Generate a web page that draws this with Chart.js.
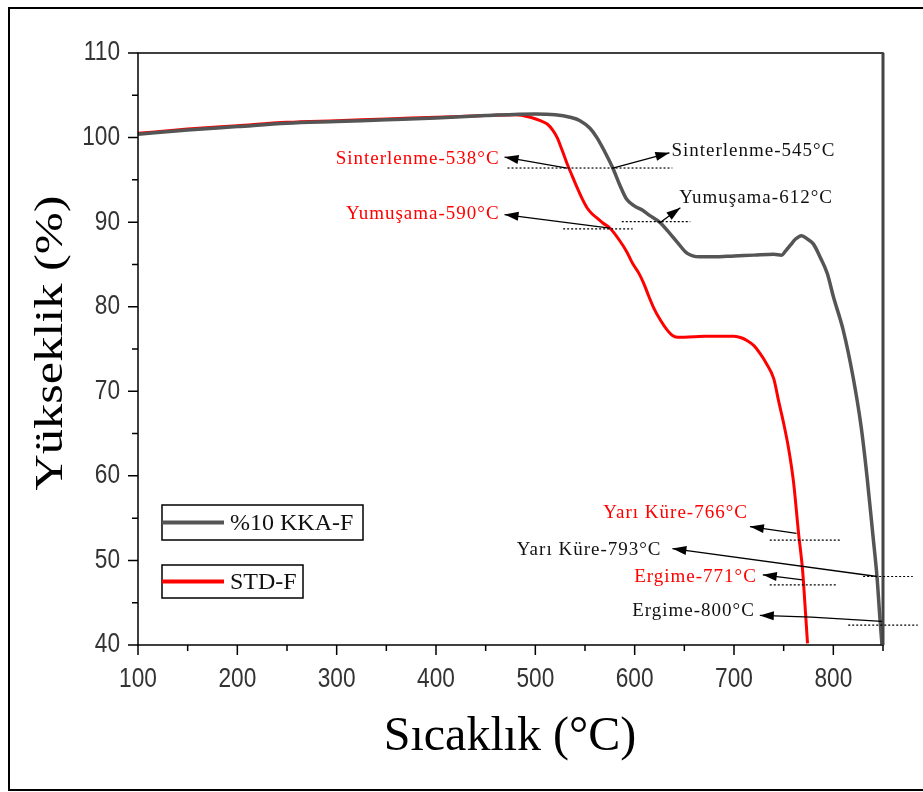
<!DOCTYPE html>
<html lang="tr">
<head>
    <meta charset="UTF-8">
    <title>Yükseklik - Sıcaklık</title>
    <script src="https://cdn.jsdelivr.net/npm/chart.js"></script>
    <style>
        html, body { margin: 0; padding: 0; background: #fff; }
        #wrap { width: 923px; height: 792px; position: relative; }
    </style>
</head>
<body>
    <div id="wrap"><canvas id="heightChart" width="923" height="792"></canvas></div>

    <script>
        // %10 KKA-F (gray)
        const kkaTemps = [100, 150, 200, 250, 300, 350, 400, 450, 500, 520, 535, 545, 555, 562, 570, 578, 585, 592, 600, 608, 615, 625, 633, 643, 653, 665, 680, 700, 720, 740, 748, 752, 757, 762, 768, 774, 780, 787, 794, 800, 810, 820, 828, 834, 840, 844, 847, 849];
        const kkaValues = [100.4, 100.9, 101.3, 101.7, 101.9, 102.1, 102.3, 102.6, 102.8, 102.7, 102.4, 102.0, 101.1, 100.0, 98.3, 96.4, 94.4, 92.7, 91.9, 91.4, 90.8, 90.0, 89.0, 87.6, 86.3, 85.9, 85.9, 86.0, 86.1, 86.2, 86.1, 86.6, 87.3, 88.0, 88.4, 88.0, 87.4, 85.8, 83.9, 81.2, 77.2, 71.6, 65.8, 59.8, 52.8, 48.0, 43.0, 40.0];

        // STD-F (red)
        const stdTemps = [100, 150, 200, 250, 300, 350, 400, 450, 480, 495, 505, 512, 518, 522, 527, 532, 537, 542, 547, 552, 557, 562, 568, 575, 585, 592, 598, 604, 609, 614, 619, 626, 633, 638, 643, 650, 670, 690, 700, 708, 713, 720, 726, 733, 740, 745, 750, 755, 760, 765, 769, 772, 774];
        const stdValues = [100.5, 101.0, 101.4, 101.8, 102.0, 102.2, 102.4, 102.6, 102.7, 102.4, 102.0, 101.6, 100.8, 100.0, 98.5, 96.9, 95.5, 94.1, 92.8, 91.7, 91.0, 90.5, 89.9, 89.3, 87.8, 86.5, 85.1, 84.0, 82.8, 81.3, 79.9, 78.4, 77.2, 76.6, 76.4, 76.4, 76.5, 76.5, 76.5, 76.3, 76.0, 75.4, 74.5, 73.2, 71.5, 68.8, 66.2, 63.2, 59.2, 53.2, 48.9, 43.8, 40.2];

        const xTicks = [100, 200, 300, 400, 500, 600, 700, 800];
        const xMinorTicks = [150, 250, 350, 450, 550, 650, 750, 850];
        const yTicks = [40, 50, 60, 70, 80, 90, 100, 110];
        const yMinorTicks = [45, 55, 65, 75, 85, 95, 105];

        const seriesNames = ['%10 KKA-F', 'STD-F'];
        const xTitle = 'Sıcaklık (°C)';
        const yTitle = 'Yükseklik (%)';

        // annotations, in data units: label point, arrow path (last point = head), dotted guide
        const noteTexts = ['Sinterlenme-538°C', 'Sinterlenme-545°C', 'Yumuşama-590°C', 'Yumuşama-612°C', 'Yarı Küre-766°C', 'Yarı Küre-793°C', 'Ergime-771°C', 'Ergime-800°C'];
        const noteSeries = [1, 0, 1, 0, 1, 0, 1, 0];
        const noteAnchor = [[464, 97.5], [637, 98.4], [464, 91.0], [645, 92.9], [714, 55.6], [627, 51.2], [723, 48.0], [721, 44.0]];
        const noteArrows = [
            [[532, 96.4], [469, 97.7]],
            [[578, 96.4], [635, 98.2]],
            [[575, 89.3], [469, 90.9]],
            [[625, 89.9], [646, 91.7]],
            [[763, 53.2], [716, 54.0]],
            [[844, 48.1], [638, 51.4]],
            [[769, 47.7], [729, 48.3]],
            [[849, 42.8], [778, 43.3], [726, 43.5]]
        ];
        const noteGuides = [[472, 638, 96.4], null, [528, 598, 89.2], [587, 656, 90.05], [736, 807, 52.4], [830, 880, 48.1], [736, 804, 47.1], [815, 885, 42.35]];

        const colors = ['#555555', '#ff0000'];

        function toPoints(xs, ys) {
            return xs.map((x, i) => ({ x: x, y: ys[i] }));
        }

        // narrow-looking sans text (no Arial Narrow installed)
        function narrowText(ctx, text, x, y, align) {
            const sx = 0.84;
            ctx.save();
            ctx.translate(x, y);
            ctx.scale(sx, 1);
            ctx.textAlign = align;
            ctx.fillText(text, 0, 0);
            ctx.restore();
        }

        const decorPlugin = {
            id: 'decor',
            beforeDraw(chart) {
                const ctx = chart.ctx;
                ctx.save();
                ctx.strokeStyle = '#000';
                ctx.lineWidth = 2;
                ctx.beginPath();
                ctx.moveTo(930, 8);
                ctx.lineTo(9, 8);
                ctx.lineTo(9, 790);
                ctx.lineTo(930, 790);
                ctx.stroke();
                ctx.restore();
            },
            afterDraw(chart) {
                const ctx = chart.ctx;
                const a = chart.chartArea;
                const xs = chart.scales.x, ys = chart.scales.y;
                ctx.save();

                // frame
                ctx.strokeStyle = '#000';
                ctx.lineWidth = 1.5;
                ctx.strokeRect(a.left, a.top, a.right - a.left, a.bottom - a.top);
                ctx.strokeStyle = '#444';
                ctx.lineWidth = 3;
                ctx.beginPath();
                ctx.moveTo(a.right, a.top);
                ctx.lineTo(a.right, a.bottom);
                ctx.stroke();

                // ticks
                ctx.strokeStyle = '#000';
                ctx.lineWidth = 1.5;
                ctx.beginPath();
                yTicks.forEach(v => { const y = ys.getPixelForValue(v); ctx.moveTo(a.left - 10, y); ctx.lineTo(a.left, y); });
                yMinorTicks.forEach(v => { const y = ys.getPixelForValue(v); ctx.moveTo(a.left - 6, y); ctx.lineTo(a.left, y); });
                xTicks.forEach(v => { const x = xs.getPixelForValue(v); ctx.moveTo(x, a.bottom); ctx.lineTo(x, a.bottom + 10); });
                xMinorTicks.forEach(v => { const x = xs.getPixelForValue(v); ctx.moveTo(x, a.bottom); ctx.lineTo(x, a.bottom + 6); });
                ctx.stroke();

                // tick labels
                ctx.fillStyle = '#333';
                ctx.font = '27px "Liberation Sans Narrow", "Arial Narrow", "Liberation Sans", sans-serif';
                ctx.textBaseline = 'middle';
                yTicks.forEach(v => narrowText(ctx, String(v), a.left - 18, ys.getPixelForValue(v), 'right'));
                xTicks.forEach(v => narrowText(ctx, String(v), xs.getPixelForValue(v), a.bottom + 35, 'center'));

                // axis titles
                ctx.fillStyle = '#000';
                ctx.font = '48px "Liberation Serif", "Times New Roman", serif';
                ctx.textAlign = 'center';
                ctx.textBaseline = 'alphabetic';
                ctx.fillText(xTitle, 510, 750);

                ctx.save();
                ctx.font = '41px "Liberation Serif", "Times New Roman", serif';
                const w = ctx.measureText(yTitle).width;
                ctx.translate(62, 343);
                ctx.rotate(-Math.PI / 2);
                ctx.scale(295 / w, 1);
                ctx.textAlign = 'center';
                ctx.fillText(yTitle, 0, 0);
                ctx.restore();

                // annotations
                noteTexts.forEach((t, i) => {
                    const col = noteSeries[i] === 1 ? '#ff0000' : '#111';
                    const g = noteGuides[i];
                    ctx.strokeStyle = '#000';
                    if (g) {
                        ctx.lineWidth = 1.2;
                        ctx.setLineDash([2, 2]);
                        ctx.beginPath();
                        const gy = ys.getPixelForValue(g[2]);
                        ctx.moveTo(xs.getPixelForValue(g[0]), gy);
                        ctx.lineTo(xs.getPixelForValue(g[1]), gy);
                        ctx.stroke();
                        ctx.setLineDash([]);
                    }
                    const pts = noteArrows[i].map(p => [xs.getPixelForValue(p[0]), ys.getPixelForValue(p[1])]);
                    ctx.lineWidth = 1.3;
                    ctx.beginPath();
                    ctx.moveTo(pts[0][0], pts[0][1]);
                    for (let k = 1; k < pts.length; k++) ctx.lineTo(pts[k][0], pts[k][1]);
                    ctx.stroke();
                    const p1 = pts[pts.length - 2], p2 = pts[pts.length - 1];
                    const ang = Math.atan2(p2[1] - p1[1], p2[0] - p1[0]);
                    ctx.fillStyle = '#000';
                    ctx.beginPath();
                    ctx.moveTo(p2[0], p2[1]);
                    ctx.lineTo(p2[0] - 14 * Math.cos(ang) + 4.5 * Math.sin(ang), p2[1] - 14 * Math.sin(ang) - 4.5 * Math.cos(ang));
                    ctx.lineTo(p2[0] - 14 * Math.cos(ang) - 4.5 * Math.sin(ang), p2[1] - 14 * Math.sin(ang) + 4.5 * Math.cos(ang));
                    ctx.closePath();
                    ctx.fill();

                    ctx.fillStyle = col;
                    ctx.font = '19px "Liberation Serif", "Times New Roman", serif';
                    ctx.letterSpacing = '1px';
                    ctx.textBaseline = 'middle';
                    const left = [1, 3].includes(i);
                    ctx.textAlign = left ? 'left' : 'right';
                    ctx.fillText(t, xs.getPixelForValue(noteAnchor[i][0]), ys.getPixelForValue(noteAnchor[i][1]));
                    ctx.letterSpacing = '0px';
                });

                // legend boxes
                const boxes = [[162, 505, 201, 35], [162, 565, 141, 33]];
                boxes.forEach((b, i) => {
                    ctx.strokeStyle = '#000';
                    ctx.lineWidth = 1.5;
                    ctx.strokeRect(b[0], b[1], b[2], b[3]);
                    ctx.strokeStyle = colors[i];
                    ctx.lineWidth = 4;
                    ctx.beginPath();
                    ctx.moveTo(b[0], b[1] + b[3] / 2);
                    ctx.lineTo(b[0] + 62, b[1] + b[3] / 2);
                    ctx.stroke();
                    ctx.fillStyle = '#111';
                    ctx.font = '24px "Liberation Serif", "Times New Roman", serif';
                    ctx.textAlign = 'left';
                    ctx.textBaseline = 'middle';
                    ctx.fillText(seriesNames[i], b[0] + 68, b[1] + b[3] / 2 + 1);
                });

                ctx.restore();
            }
        };

        function renderChart() {
            const ctx = document.getElementById('heightChart').getContext('2d');
            new Chart(ctx, {
                type: 'line',
                data: {
                    datasets: [{
                        label: seriesNames[0],
                        data: toPoints(kkaTemps, kkaValues),
                        borderColor: colors[0],
                        borderWidth: 3.5,
                        pointRadius: 0,
                        cubicInterpolationMode: 'monotone',
                        fill: false
                    }, {
                        label: seriesNames[1],
                        data: toPoints(stdTemps, stdValues),
                        borderColor: colors[1],
                        borderWidth: 3,
                        pointRadius: 0,
                        cubicInterpolationMode: 'monotone',
                        fill: false
                    }]
                },
                options: {
                    responsive: false,
                    animation: false,
                    layout: { padding: { left: 138, top: 53, right: 40, bottom: 147 } },
                    plugins: { legend: { display: false }, tooltip: { enabled: false } },
                    scales: {
                        x: { type: 'linear', min: 100, max: 850, display: false },
                        y: { min: 40, max: 110, display: false }
                    }
                },
                plugins: [decorPlugin]
            });
        }

        renderChart();
    </script>
</body>
</html>
